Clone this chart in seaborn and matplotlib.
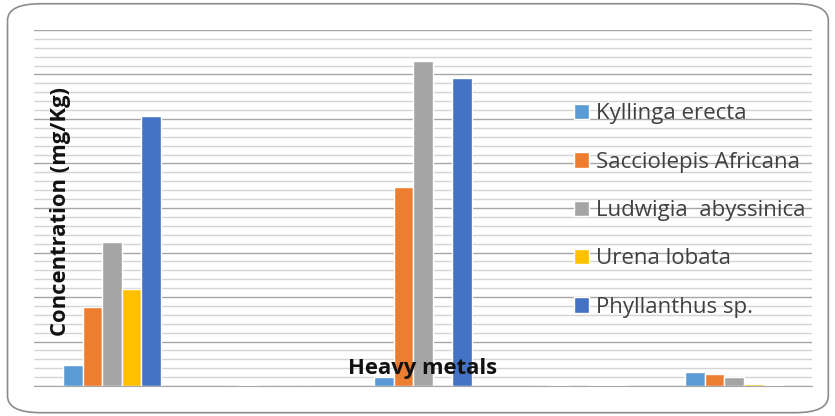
import pandas as pd
import seaborn as sns
import matplotlib.pyplot as plt
from matplotlib.patches import FancyBboxPatch
from matplotlib.ticker import MultipleLocator

# five metal groups (names not shown on the chart)
groups = ["1", "2", "3", "4", "5"]
species = ["Kyllinga erecta", "Sacciolepis Africana", "Ludwigia  abyssinica",
           "Urena lobata", "Phyllanthus sp."]
kyllinga = [23.6, 0.0, 9.8, 0.0, 15.4]
sacciolepis = [89.0, 1.0, 224.0, 1.0, 13.5]
ludwigia = [162.0, 0.0, 365.0, 0.0, 10.0]
urena = [109.0, 0.0, 0.0, 1.0, 2.2]
phyllanthus = [303.0, 0.0, 346.0, 1.0, 0.8]
colors = ["#5B9BD5", "#ED7D31", "#A5A5A5", "#FFC000", "#4472C4"]

rows = []
for name, vals in zip(species, [kyllinga, sacciolepis, ludwigia, urena, phyllanthus]):
    for g, v in zip(groups, vals):
        rows.append({"group": g, "species": name, "value": v})
df = pd.DataFrame(rows)

sns.set_style("white")
plt.rcParams['font.family'] = ['Open Sans', 'DejaVu Sans']

fig = plt.figure(figsize=(8.35, 4.16), dpi=100)
ax = fig.add_axes([0.0407, 0.0721, 0.9318, 0.8558])

sns.barplot(data=df, x="group", y="value", hue="species", palette=colors,
            width=0.627, ax=ax, saturation=1, legend=True)

ax.set_ylim(0, 400)
ax.yaxis.set_major_locator(MultipleLocator(50))
ax.yaxis.set_minor_locator(MultipleLocator(10))
ax.grid(which="major", axis="y", color="#a6a6a6", linewidth=1.0)
ax.grid(which="minor", axis="y", color="#d4d4d4", linewidth=1.0)
ax.set_axisbelow(True)
ax.tick_params(left=False, bottom=False, which="both",
               labelleft=False, labelbottom=False)
for s in ["left", "right", "top"]:
    ax.spines[s].set_visible(False)
ax.spines["bottom"].set_color("#a6a6a6")

ax.set_xlabel("")
ax.set_ylabel("")
ax.text(0.5, 0.05, "Heavy metals", transform=ax.transAxes, ha="center",
        va="center", fontsize=15.8, fontweight="bold", color="#111111")
ax.text(0.034, 0.49, "Concentration (mg/Kg)", transform=ax.transAxes,
        ha="center", va="center", rotation=90, fontsize=15.8,
        fontweight="bold", color="#111111")

handles, labels = ax.get_legend_handles_labels()
ax.legend(handles, labels, loc="upper left", bbox_to_anchor=(0.668, 0.85),
          frameon=False, fontsize=16, handlelength=0.7, handleheight=0.7,
          handletextpad=0.3, labelspacing=1.23, labelcolor="#404040")

border = FancyBboxPatch((0.009, 0.008), 0.983, 0.983, transform=fig.transFigure,
                        boxstyle="round,pad=0,rounding_size=0.04",
                        facecolor="none", edgecolor="#8c8c8c", linewidth=1.2)
fig.add_artist(border)

fig.savefig("out.png", dpi=100)
